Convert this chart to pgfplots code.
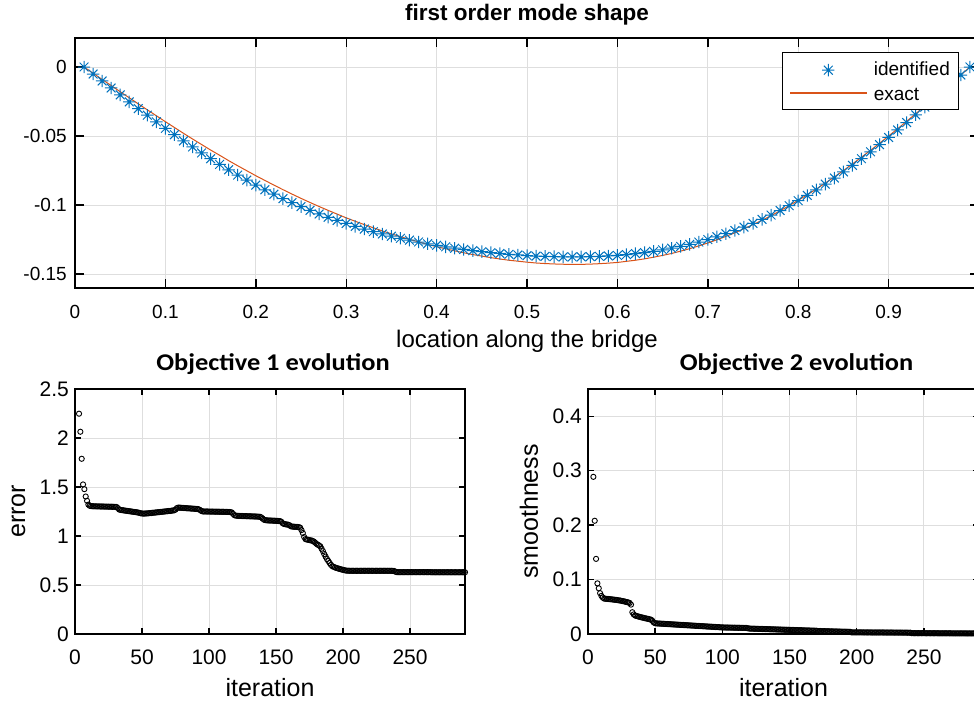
\documentclass[border=0pt]{standalone}
\usepackage{fontspec}
\setmainfont{Liberation Sans}
\newfontfamily\calibri{Carlito}
\usepackage{graphicx}
\usepackage{pgfplots}
\pgfplotsset{compat=1.18}
\definecolor{mblue}{RGB}{0,114,189}
\definecolor{morange}{RGB}{217,83,25}
\definecolor{mgrid}{RGB}{222,222,222}
\pgfdeclareplotmark{matstar}{%
 \pgfpathmoveto{\pgfqpoint{0pt}{\pgfplotmarksize}}\pgfpathlineto{\pgfqpoint{0pt}{-\pgfplotmarksize}}%
 \pgfpathmoveto{\pgfqpoint{\pgfplotmarksize}{0pt}}\pgfpathlineto{\pgfqpoint{-\pgfplotmarksize}{0pt}}%
 \pgfpathmoveto{\pgfqpoint{0.7071\pgfplotmarksize}{0.7071\pgfplotmarksize}}\pgfpathlineto{\pgfqpoint{-0.7071\pgfplotmarksize}{-0.7071\pgfplotmarksize}}%
 \pgfpathmoveto{\pgfqpoint{-0.7071\pgfplotmarksize}{0.7071\pgfplotmarksize}}\pgfpathlineto{\pgfqpoint{0.7071\pgfplotmarksize}{-0.7071\pgfplotmarksize}}%
 \pgfusepathqstroke}
\pgfplotsset{mstyle/.style={scale only axis, anchor=south west,
  axis line style={line width=1.6pt, black},
  tick style={line width=1.4pt, black}, tick align=inside, tick pos=both,
  grid=major, major grid style={mgrid, line width=0.9pt},
  /pgf/number format/assume math mode=true,
  xticklabel style={anchor=north, inner sep=0pt},
  yticklabel style={anchor=east, inner sep=0pt},
  },
  starleg/.style={legend image code/.code={\path (0pt,-2pt) (76pt,-2pt); \draw[##1] plot coordinates {(38pt,-2pt)};}},
  lineleg/.style={legend image code/.code={\fill[fill=morange] (0pt,-0.6pt) rectangle (76pt,0.6pt);}},
}
\begin{document}
\begin{tikzpicture}
\useasboundingbox (0pt,0pt) rectangle (974pt,702pt);
\clip (0pt,0pt) rectangle (974pt,702pt);
% ---------------- top axis
\begin{axis}[mstyle, at={(75pt,414pt)}, width=904pt, height=250pt,
  xmin=0, xmax=1, ymin=-0.16, ymax=0.021,
  xtick={0,0.1,0.2,0.3,0.4,0.5,0.6,0.7,0.8,0.9},
  xticklabels={0,0.1,0.2,0.3,0.4,0.5,0.6,0.7,0.8,0.9},
  ytick={-0.15,-0.1,-0.05,0},
  yticklabels={-0.15,-0.1,-0.05,0},
  major tick length=9pt,
  ticklabel style={font=\fontsize{19}{22}\selectfont},
  xticklabel style={yshift=-17pt},
  yticklabel style={xshift=-8pt},
  title={\bfseries first order mode shape},
  title style={font=\fontsize{22.5}{26}\selectfont, at={(axis description cs:0.5,1)}, anchor=base, yshift=11.5pt},
  xlabel={location along the bridge},
  xlabel style={font=\fontsize{24}{28}\selectfont, at={(axis description cs:0.5,0)}, anchor=base, yshift=-60pt},
  legend style={font=\fontsize{19}{22}\selectfont,
    at={(axis description cs:0.9768,0.944)}, anchor=north east,
    inner xsep=8pt, inner ysep=9pt, row sep=10pt,
    nodes={inner sep=0pt, text height=14pt, text depth=0pt},
    /tikz/every odd column/.append style={column sep=7pt}},
  legend cell align=left,
  ]
\addplot[only marks, mark=matstar, mark size=6.2pt, color=mblue, line width=1pt, starleg]
 coordinates {(0.01,0)(0.02,-0.0051)(0.03,-0.0101)(0.04,-0.0152)(0.05,-0.0202)(0.06,-0.0252)(0.07,-0.0301)(0.08,-0.0349)(0.09,-0.0397)(0.10,-0.0444)(0.11,-0.0490)(0.12,-0.0535)(0.13,-0.0579)(0.14,-0.0622)(0.15,-0.0664)(0.16,-0.0705)(0.17,-0.0744)(0.18,-0.0782)(0.19,-0.0819)(0.20,-0.0855)(0.21,-0.0889)(0.22,-0.0921)(0.23,-0.0953)(0.24,-0.0982)(0.25,-0.1011)(0.26,-0.1038)(0.27,-0.1064)(0.28,-0.1088)(0.29,-0.1111)(0.30,-0.1133)(0.31,-0.1154)(0.32,-0.1173)(0.33,-0.1192)(0.34,-0.1209)(0.35,-0.1225)(0.36,-0.1240)(0.37,-0.1254)(0.38,-0.1267)(0.39,-0.1280)(0.40,-0.1291)(0.41,-0.1302)(0.42,-0.1312)(0.43,-0.1321)(0.44,-0.1329)(0.45,-0.1337)(0.46,-0.1344)(0.47,-0.1350)(0.48,-0.1356)(0.49,-0.1361)(0.50,-0.1365)(0.51,-0.1369)(0.52,-0.1371)(0.53,-0.1373)(0.54,-0.1375)(0.55,-0.1375)(0.56,-0.1375)(0.57,-0.1373)(0.58,-0.1371)(0.59,-0.1368)(0.60,-0.1364)(0.61,-0.1358)(0.62,-0.1351)(0.63,-0.1344)(0.64,-0.1335)(0.65,-0.1324)(0.66,-0.1312)(0.67,-0.1299)(0.68,-0.1284)(0.69,-0.1267)(0.70,-0.1249)(0.71,-0.1229)(0.72,-0.1207)(0.73,-0.1184)(0.74,-0.1159)(0.75,-0.1132)(0.76,-0.1103)(0.77,-0.1072)(0.78,-0.1039)(0.79,-0.1004)(0.80,-0.0968)(0.81,-0.0930)(0.82,-0.0890)(0.83,-0.0848)(0.84,-0.0804)(0.85,-0.0759)(0.86,-0.0712)(0.87,-0.0664)(0.88,-0.0614)(0.89,-0.0562)(0.90,-0.0510)(0.91,-0.0456)(0.92,-0.0402)(0.93,-0.0346)(0.94,-0.0290)(0.95,-0.0232)(0.96,-0.0175)(0.97,-0.0117)(0.98,-0.0058)(0.99,0)};
\addlegendentry{identified}
\addplot[color=morange, line width=1pt, no marks, lineleg]
 coordinates {(0.01,0)(0.02,-0.0045)(0.03,-0.0090)(0.04,-0.0134)(0.05,-0.0179)(0.06,-0.0223)(0.07,-0.0267)(0.08,-0.0310)(0.09,-0.0353)(0.10,-0.0396)(0.11,-0.0438)(0.12,-0.0480)(0.13,-0.0521)(0.14,-0.0561)(0.15,-0.0601)(0.16,-0.0639)(0.17,-0.0678)(0.18,-0.0715)(0.19,-0.0751)(0.20,-0.0787)(0.21,-0.0821)(0.22,-0.0855)(0.23,-0.0888)(0.24,-0.0920)(0.25,-0.0951)(0.26,-0.0981)(0.27,-0.1010)(0.28,-0.1038)(0.29,-0.1065)(0.30,-0.1092)(0.31,-0.1117)(0.32,-0.1141)(0.33,-0.1164)(0.34,-0.1187)(0.35,-0.1208)(0.36,-0.1228)(0.37,-0.1248)(0.38,-0.1266)(0.39,-0.1284)(0.40,-0.1301)(0.41,-0.1316)(0.42,-0.1331)(0.43,-0.1345)(0.44,-0.1358)(0.45,-0.1369)(0.46,-0.1380)(0.47,-0.1390)(0.48,-0.1399)(0.49,-0.1406)(0.50,-0.1413)(0.51,-0.1419)(0.52,-0.1423)(0.53,-0.1426)(0.54,-0.1428)(0.55,-0.1429)(0.56,-0.1429)(0.57,-0.1427)(0.58,-0.1424)(0.59,-0.1420)(0.60,-0.1415)(0.61,-0.1407)(0.62,-0.1399)(0.63,-0.1389)(0.64,-0.1377)(0.65,-0.1364)(0.66,-0.1350)(0.67,-0.1333)(0.68,-0.1315)(0.69,-0.1295)(0.70,-0.1274)(0.71,-0.1251)(0.72,-0.1226)(0.73,-0.1200)(0.74,-0.1171)(0.75,-0.1141)(0.76,-0.1110)(0.77,-0.1076)(0.78,-0.1041)(0.79,-0.1004)(0.80,-0.0965)(0.81,-0.0925)(0.82,-0.0884)(0.83,-0.0840)(0.84,-0.0796)(0.85,-0.0750)(0.86,-0.0702)(0.87,-0.0653)(0.88,-0.0603)(0.89,-0.0552)(0.90,-0.0500)(0.91,-0.0447)(0.92,-0.0393)(0.93,-0.0338)(0.94,-0.0283)(0.95,-0.0227)(0.96,-0.0171)(0.97,-0.0114)(0.98,-0.0057)(0.99,0)};
\addlegendentry{exact}
\end{axis}
% ---------------- bottom left
\begin{axis}[mstyle, at={(75pt,68pt)}, width=390pt, height=245pt,
  xmin=0, xmax=291, ymin=0, ymax=2.5,
  xtick={0,50,100,150,200,250}, ytick={0,0.5,1,1.5,2,2.5},
  major tick length=6pt,
  ticklabel style={font=\fontsize{21}{25}\selectfont},
  xticklabel style={yshift=-16pt},
  yticklabel style={xshift=-6pt},
  title={\scalebox{1.1}[1]{\calibri\bfseries Objective 1 evolution}},
  title style={font=\fontsize{24}{28}\selectfont, at={(axis description cs:0.5,1)}, anchor=base, yshift=12.3pt, xshift=3pt},
  xlabel={iteration},
  xlabel style={font=\fontsize{25}{29}\selectfont, at={(axis description cs:0.5,0)}, anchor=base, yshift=-62.7pt},
  ylabel={error},
  ylabel style={font=\fontsize{25}{29}\selectfont, at={(axis description cs:-0.128,0.5)}, anchor=base, rotate=0},
  ]
\addplot[only marks, mark=o, mark size=2.6pt, black, line width=0.9pt]
 coordinates {(3,2.248)(4,2.064)(5,1.788)(6,1.526)(7,1.478)(8,1.403)(9,1.359)(10,1.320)(11,1.308)(12,1.305)(13,1.304)(14,1.303)(15,1.303)(16,1.302)(17,1.302)(18,1.302)(19,1.301)(20,1.301)(21,1.301)(22,1.300)(23,1.300)(24,1.300)(25,1.299)(26,1.299)(27,1.299)(28,1.298)(29,1.298)(30,1.297)(31,1.296)(32,1.285)(33,1.270)(34,1.266)(35,1.264)(36,1.262)(37,1.260)(38,1.258)(39,1.256)(40,1.254)(41,1.252)(42,1.250)(43,1.248)(44,1.246)(45,1.244)(46,1.242)(47,1.240)(48,1.236)(49,1.232)(50,1.230)(51,1.228)(52,1.229)(53,1.230)(54,1.231)(55,1.232)(56,1.234)(57,1.235)(58,1.237)(59,1.238)(60,1.240)(61,1.241)(62,1.243)(63,1.244)(64,1.246)(65,1.247)(66,1.249)(67,1.250)(68,1.252)(69,1.253)(70,1.255)(71,1.256)(72,1.258)(73,1.260)(74,1.262)(75,1.270)(76,1.285)(77,1.290)(78,1.289)(79,1.288)(80,1.287)(81,1.286)(82,1.285)(83,1.284)(84,1.283)(85,1.282)(86,1.281)(87,1.280)(88,1.279)(89,1.278)(90,1.277)(91,1.276)(92,1.274)(93,1.268)(94,1.258)(95,1.252)(96,1.250)(97,1.250)(98,1.250)(99,1.250)(100,1.249)(101,1.249)(102,1.249)(103,1.249)(104,1.248)(105,1.248)(106,1.248)(107,1.248)(108,1.247)(109,1.247)(110,1.247)(111,1.247)(112,1.246)(113,1.246)(114,1.246)(115,1.245)(116,1.244)(117,1.240)(118,1.225)(119,1.212)(120,1.208)(121,1.206)(122,1.205)(123,1.205)(124,1.204)(125,1.204)(126,1.203)(127,1.203)(128,1.202)(129,1.202)(130,1.201)(131,1.201)(132,1.200)(133,1.200)(134,1.199)(135,1.199)(136,1.198)(137,1.197)(138,1.196)(139,1.190)(140,1.178)(141,1.166)(142,1.162)(143,1.160)(144,1.159)(145,1.158)(146,1.158)(147,1.157)(148,1.156)(149,1.156)(150,1.155)(151,1.154)(152,1.153)(153,1.152)(154,1.145)(155,1.130)(156,1.122)(157,1.120)(158,1.118)(159,1.116)(160,1.110)(161,1.100)(162,1.096)(163,1.095)(164,1.094)(165,1.093)(166,1.092)(167,1.091)(168,1.085)(169,1.060)(170,1.030)(171,0.990)(172,0.968)(173,0.964)(174,0.961)(175,0.958)(176,0.955)(177,0.952)(178,0.945)(179,0.935)(180,0.922)(181,0.912)(182,0.905)(183,0.895)(184,0.870)(185,0.845)(186,0.815)(187,0.790)(188,0.765)(189,0.745)(190,0.725)(191,0.705)(192,0.692)(193,0.685)(194,0.679)(195,0.674)(196,0.670)(197,0.666)(198,0.662)(199,0.658)(200,0.655)(201,0.651)(202,0.648)(203,0.646)(204,0.646)(205,0.645)(206,0.645)(207,0.645)(208,0.645)(209,0.645)(210,0.645)(211,0.645)(212,0.645)(213,0.645)(214,0.645)(215,0.645)(216,0.645)(217,0.645)(218,0.645)(219,0.645)(220,0.645)(221,0.645)(222,0.645)(223,0.645)(224,0.645)(225,0.645)(226,0.645)(227,0.645)(228,0.645)(229,0.645)(230,0.645)(231,0.645)(232,0.645)(233,0.645)(234,0.645)(235,0.645)(236,0.645)(237,0.644)(238,0.644)(239,0.636)(240,0.632)(241,0.631)(242,0.631)(243,0.631)(244,0.631)(245,0.631)(246,0.631)(247,0.631)(248,0.631)(249,0.631)(250,0.631)(251,0.631)(252,0.631)(253,0.631)(254,0.631)(255,0.631)(256,0.631)(257,0.631)(258,0.631)(259,0.631)(260,0.631)(261,0.631)(262,0.631)(263,0.631)(264,0.631)(265,0.631)(266,0.630)(267,0.630)(268,0.630)(269,0.630)(270,0.630)(271,0.630)(272,0.630)(273,0.630)(274,0.630)(275,0.630)(276,0.630)(277,0.630)(278,0.630)(279,0.630)(280,0.630)(281,0.630)(282,0.630)(283,0.630)(284,0.630)(285,0.630)(286,0.630)(287,0.630)(288,0.630)(289,0.630)(290,0.630)(291,0.630)};
\end{axis}
% ---------------- bottom right
\begin{axis}[mstyle, at={(588pt,68pt)}, width=391pt, height=245pt,
  xmin=0, xmax=291, ymin=0, ymax=0.45,
  xtick={0,50,100,150,200,250}, ytick={0,0.1,0.2,0.3,0.4},
  major tick length=6pt,
  ticklabel style={font=\fontsize{21}{25}\selectfont},
  xticklabel style={yshift=-16pt},
  yticklabel style={xshift=-6pt},
  title={\scalebox{1.1}[1]{\calibri\bfseries Objective 2 evolution}},
  title style={font=\fontsize{24}{28}\selectfont, at={(axis description cs:0.5,1)}, anchor=base, yshift=12.3pt, xshift=13pt},
  xlabel={iteration},
  xlabel style={font=\fontsize{25}{29}\selectfont, at={(axis description cs:0.5,0)}, anchor=base, yshift=-62.7pt},
  ylabel={smoothness},
  ylabel style={font=\fontsize{25}{29}\selectfont, at={(axis description cs:-0.128,0.5)}, anchor=base, rotate=0},
  ]
\addplot[only marks, mark=o, mark size=2.6pt, black, line width=0.9pt]
 coordinates {(4,0.2887)(5,0.208)(6,0.138)(7,0.093)(8,0.084)(9,0.075)(10,0.070)(11,0.067)(12,0.065)(13,0.0648)(14,0.0645)(15,0.0643)(16,0.0640)(17,0.0638)(18,0.0635)(19,0.0632)(20,0.0629)(21,0.0626)(22,0.0622)(23,0.0618)(24,0.0614)(25,0.0609)(26,0.0604)(27,0.0598)(28,0.0592)(29,0.0586)(30,0.0579)(31,0.0570)(32,0.0540)(33,0.0400)(34,0.0360)(35,0.0340)(36,0.0332)(37,0.0325)(38,0.0318)(39,0.0311)(40,0.0305)(41,0.0299)(42,0.0293)(43,0.0287)(44,0.0281)(45,0.0276)(46,0.0270)(47,0.0262)(48,0.0240)(49,0.0210)(50,0.0198)(51,0.0195)(52,0.0193)(53,0.0192)(54,0.0190)(55,0.0189)(56,0.0187)(57,0.0186)(58,0.0184)(59,0.0183)(60,0.0181)(61,0.0180)(62,0.0178)(63,0.0177)(64,0.0175)(65,0.0174)(66,0.0172)(67,0.0171)(68,0.0169)(69,0.0168)(70,0.0166)(71,0.0165)(72,0.0163)(73,0.0162)(74,0.0160)(75,0.0159)(76,0.0157)(77,0.0156)(78,0.0154)(79,0.0153)(80,0.0151)(81,0.0150)(82,0.0148)(83,0.0147)(84,0.0145)(85,0.0144)(86,0.0142)(87,0.0141)(88,0.0139)(89,0.0138)(90,0.0136)(91,0.0135)(92,0.0133)(93,0.0132)(94,0.0130)(95,0.0129)(96,0.0127)(97,0.0126)(98,0.0124)(99,0.0122)(100,0.0121)(101,0.0120)(102,0.0119)(103,0.0119)(104,0.0118)(105,0.0118)(106,0.0117)(107,0.0117)(108,0.0116)(109,0.0116)(110,0.0115)(111,0.0115)(112,0.0114)(113,0.0114)(114,0.0113)(115,0.0113)(116,0.0112)(117,0.0112)(118,0.0111)(119,0.0105)(120,0.0100)(121,0.0099)(122,0.0098)(123,0.0097)(124,0.0097)(125,0.0096)(126,0.0095)(127,0.0094)(128,0.0094)(129,0.0093)(130,0.0092)(131,0.0091)(132,0.0090)(133,0.0090)(134,0.0089)(135,0.0088)(136,0.0087)(137,0.0086)(138,0.0086)(139,0.0085)(140,0.0084)(141,0.0083)(142,0.0082)(143,0.0082)(144,0.0081)(145,0.0080)(146,0.0079)(147,0.0078)(148,0.0078)(149,0.0077)(150,0.0076)(151,0.0075)(152,0.0074)(153,0.0074)(154,0.0073)(155,0.0072)(156,0.0071)(157,0.0070)(158,0.0070)(159,0.0069)(160,0.0068)(161,0.0067)(162,0.0066)(163,0.0066)(164,0.0065)(165,0.0064)(166,0.0063)(167,0.0062)(168,0.0062)(169,0.0061)(170,0.0060)(171,0.0055)(172,0.0054)(173,0.0054)(174,0.0053)(175,0.0052)(176,0.0052)(177,0.0051)(178,0.0051)(179,0.0050)(180,0.0049)(181,0.0049)(182,0.0048)(183,0.0047)(184,0.0047)(185,0.0046)(186,0.0045)(187,0.0045)(188,0.0044)(189,0.0043)(190,0.0043)(191,0.0042)(192,0.0042)(193,0.0041)(194,0.0040)(195,0.0040)(196,0.0030)(197,0.0030)(198,0.0030)(199,0.0030)(200,0.0030)(201,0.0030)(202,0.0030)(203,0.0030)(204,0.0030)(205,0.0029)(206,0.0029)(207,0.0029)(208,0.0029)(209,0.0029)(210,0.0029)(211,0.0028)(212,0.0028)(213,0.0028)(214,0.0028)(215,0.0028)(216,0.0028)(217,0.0028)(218,0.0028)(219,0.0028)(220,0.0028)(221,0.0027)(222,0.0027)(223,0.0027)(224,0.0027)(225,0.0027)(226,0.0027)(227,0.0027)(228,0.0026)(229,0.0026)(230,0.0026)(231,0.0026)(232,0.0026)(233,0.0026)(234,0.0025)(235,0.0025)(236,0.0025)(237,0.0025)(238,0.0024)(239,0.0024)(240,0.0024)(241,0.0015)(242,0.0015)(243,0.0015)(244,0.0015)(245,0.0015)(246,0.0015)(247,0.0015)(248,0.0015)(249,0.0015)(250,0.0015)(251,0.0014)(252,0.0014)(253,0.0014)(254,0.0014)(255,0.0014)(256,0.0014)(257,0.0014)(258,0.0014)(259,0.0014)(260,0.0014)(261,0.0013)(262,0.0013)(263,0.0013)(264,0.0013)(265,0.0013)(266,0.0013)(267,0.0013)(268,0.0013)(269,0.0013)(270,0.0013)(271,0.0012)(272,0.0012)(273,0.0012)(274,0.0012)(275,0.0012)(276,0.0012)(277,0.0012)(278,0.0012)(279,0.0012)(280,0.0012)(281,0.0011)(282,0.0011)(283,0.0011)(284,0.0011)(285,0.0011)(286,0.0011)(287,0.0011)(288,0.0011)(289,0.0011)(290,0.0011)(291,0.0011)};
\end{axis}
\end{tikzpicture}
\end{document}
